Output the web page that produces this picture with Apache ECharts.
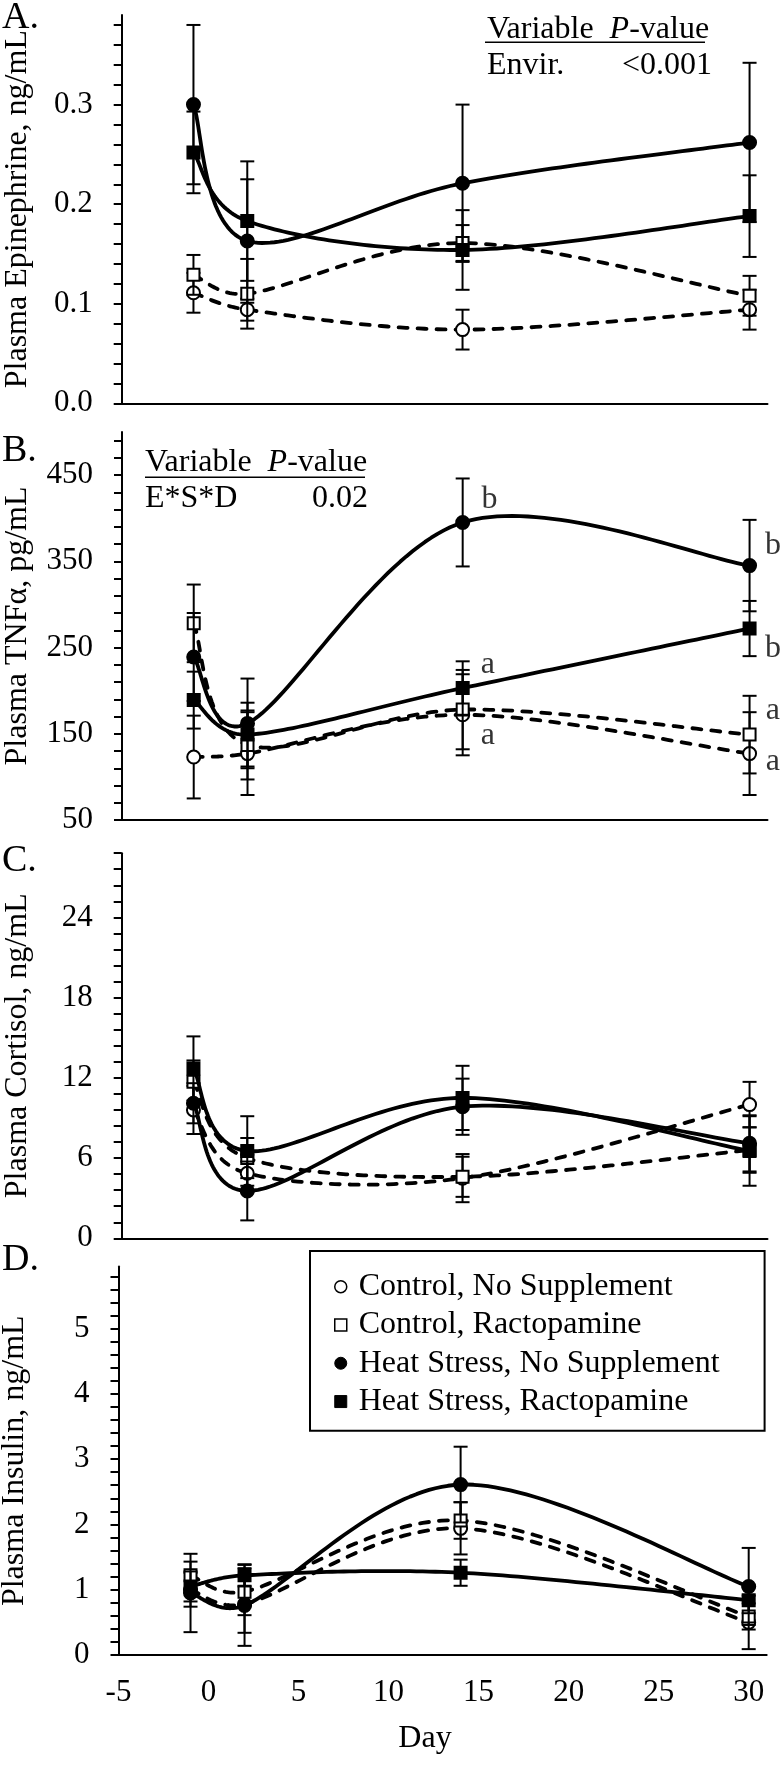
<!DOCTYPE html>
<html><head><meta charset="utf-8">
<script src="https://cdn.jsdelivr.net/npm/echarts@6/dist/echarts.min.js"></script>
<style>html,body{margin:0;padding:0;background:#fff}#c{width:780px;height:1765px}</style>
</head><body><div id="c"></div>
<script>
// ---------- data ----------
const days = [-1, 2, 14, 30];
const groupNames = ['Control, No Supplement', 'Control, Ractopamine', 'Heat Stress, No Supplement', 'Heat Stress, Ractopamine'];

// A. Plasma epinephrine, ng/mL
const epiConNS = [0.111, 0.094, 0.074, 0.094];
const epiConNSse = [0.020, 0.011, 0.020, 0.020];
const epiConR = [0.129, 0.110, 0.161, 0.108];
const epiConRse = [0.020, 0.035, 0.018, 0.020];
const epiHsNS = [0.300, 0.163, 0.221, 0.262];
const epiHsNSse = [0.080, 0.062, 0.079, 0.080];
const epiHsR = [0.252, 0.183, 0.154, 0.188];
const epiHsRse = [0.041, 0.060, 0.040, 0.041];

// B. Plasma TNFa, pg/mL
const tnfConNS = [123, 127, 172, 127];
const tnfConNSse = [48, 48, 47, 48];
const tnfConR = [278, 137, 178, 149];
const tnfConRse = [45, 40, 46, 45];
const tnfHsNS = [239, 162, 395, 345];
const tnfHsNSse = [51, 52, 51, 53];
const tnfHsR = [189, 149, 203, 272];
const tnfHsRse = [33, 37, 31, 32];
const tnfLetters = ['b', 'a', 'a', 'b', 'b', 'a', 'a'];
const tnfLetterDays = [15.5, 15.4, 15.4, 31.3, 31.3, 31.3, 31.3];
const tnfLetterVals = [421, 230, 148, 368, 249, 177, 118];

// C. Plasma cortisol, ng/mL
const corConNS = [9.6, 4.86, 4.5, 10.0];
const corConNSse = [1.8, 1.4, 1.8, 1.7];
const corConR = [11.7, 6.0, 4.6, 6.6];
const corConRse = [1.6, 1.5, 1.5, 1.7];
const corHsNS = [10.1, 3.54, 9.84, 7.1];
const corHsNSse = [1.5, 2.2, 2.1, 2.1];
const corHsR = [12.7, 6.53, 10.5, 6.53];
const corHsRse = [2.4, 2.6, 2.4, 2.6];

// D. Plasma insulin, ng/mL
const insConNS = [1.00, 0.78, 1.94, 0.50];
const insConNSse = [0.26, 0.44, 0.40, 0.41];
const insConR = [1.22, 0.97, 2.06, 0.59];
const insConRse = [0.21, 0.36, 0.28, 0.20];
const insHsNS = [0.95, 0.76, 2.61, 1.05];
const insHsNSse = [0.60, 0.62, 0.58, 0.59];
const insHsR = [1.05, 1.22, 1.26, 0.84];
const insHsRse = [0.23, 0.17, 0.20, 0.20];

// axes / ticks
const xTickLabels = [-5, 0, 5, 10, 15, 20, 25, 30];
const epiTickLabels = [0, 0.1, 0.2, 0.3];
const tnfTickLabels = [50, 150, 250, 350, 450];
const corTickLabels = [0, 6, 12, 18, 24];
const insTickLabels = [0, 1, 2, 3, 4, 5];

// ---------- layout ----------
const F = "'Liberation Serif', 'Times New Roman', serif";
function minorTicks(min, max, step) {
  const out = [];
  for (let v = min; v <= max + 1e-9; v += step) out.push(+v.toFixed(6));
  return out;
}
const panels = [
  { name: 'Plasma Epinephrine, ng/mL', grid: { left: 121.7, top: 15, width: 645.8, height: 388.3 },
    min: 0, max: 0.39, ticks: minorTicks(0, 0.38, 0.02), labels: epiTickLabels, fmt: v => v.toFixed(1),
    m: [epiConNS, epiConR, epiHsNS, epiHsR], s: [epiConNSse, epiConRse, epiHsNSse, epiHsRse] },
  { name: 'Plasma TNFα, pg/mL', grid: { left: 122, top: 431.9, width: 645.5, height: 388.1 },
    min: 50, max: 500, ticks: minorTicks(50, 490, 20), labels: tnfTickLabels, fmt: v => String(v),
    m: [tnfConNS, tnfConR, tnfHsNS, tnfHsR], s: [tnfConNSse, tnfConRse, tnfHsNSse, tnfHsRse] },
  { name: 'Plasma Cortisol, ng/mL', grid: { left: 121.7, top: 853.2, width: 645.8, height: 385.1 },
    min: 0, max: 28.8, ticks: minorTicks(0, 28.8, 1.2), labels: corTickLabels, fmt: v => String(v),
    m: [corConNS, corConR, corHsNS, corHsR], s: [corConNSse, corConRse, corHsNSse, corHsRse] },
  { name: 'Plasma Insulin, ng/mL', grid: { left: 118.5, top: 1266.5, width: 648.2, height: 388.5 },
    min: 0, max: 5.95, ticks: minorTicks(0, 5.8, 0.2), labels: insTickLabels, fmt: v => String(v),
    m: [insConNS, insConR, insHsNS, insHsR], s: [insConNSse, insConRse, insHsNSse, insHsRse] }
];

function errRender(params, api) {
  const x = api.value(0), lo = api.value(1), hi = api.value(2);
  const pLo = api.coord([x, lo]), pHi = api.coord([x, hi]);
  const w = 7;
  const st = { stroke: '#000', lineWidth: 2 };
  return { type: 'group', children: [
    { type: 'line', shape: { x1: pLo[0], y1: pLo[1], x2: pHi[0], y2: pHi[1] }, style: st },
    { type: 'line', shape: { x1: pLo[0] - w, y1: pLo[1], x2: pLo[0] + w, y2: pLo[1] }, style: st },
    { type: 'line', shape: { x1: pHi[0] - w, y1: pHi[1], x2: pHi[0] + w, y2: pHi[1] }, style: st }
  ] };
}

// spreadsheet-style smoothed curve (cubic Bezier, Catmull-Rom control points), sampled in pixel space
function curveRender(dashed) {
  return function (params, api) {
    if (params.dataIndex !== 0) return null;
    const pts = [];
    for (let k = 0; k < days.length; k++) pts.push(api.coord([api.value(0, k), api.value(1, k)]));
    const out = [pts[0]];
    const clampArm = (a, seg) => {
      const la = Math.hypot(a[0], a[1]), ls = Math.hypot(seg[0], seg[1]) / 2;
      return la > ls && la > 0 ? [a[0] * ls / la, a[1] * ls / la] : a;
    };
    for (let k = 0; k < pts.length - 1; k++) {
      const p0 = pts[k - 1] || pts[k], p1 = pts[k], p2 = pts[k + 1], p3 = pts[k + 2] || pts[k + 1];
      const seg = [p2[0] - p1[0], p2[1] - p1[1]];
      const a1 = clampArm([(p2[0] - p0[0]) / 6, (p2[1] - p0[1]) / 6], seg);
      const a2 = clampArm([(p3[0] - p1[0]) / 6, (p3[1] - p1[1]) / 6], seg);
      const c1 = [p1[0] + a1[0], p1[1] + a1[1]];
      const c2 = [p2[0] - a2[0], p2[1] - a2[1]];
      const N = 40;
      for (let j = 1; j <= N; j++) {
        const t = j / N, u = 1 - t;
        out.push([
          u * u * u * p1[0] + 3 * u * u * t * c1[0] + 3 * u * t * t * c2[0] + t * t * t * p2[0],
          u * u * u * p1[1] + 3 * u * u * t * c1[1] + 3 * u * t * t * c2[1] + t * t * t * p2[1]
        ]);
      }
    }
    return { type: 'polyline', shape: { points: out },
      style: { fill: null, stroke: '#000', lineWidth: dashed ? 3.8 : 3.8, lineCap: dashed ? 'round' : 'butt', lineJoin: 'round', lineDash: dashed ? [9, 10] : null } };
  };
}

const grids = [], xAxes = [], yAxes = [], series = [];
panels.forEach((p, i) => {
  grids.push(Object.assign({ outerBoundsMode: 'none', containLabel: false }, p.grid));
  const last = i === panels.length - 1;
  xAxes.push({
    type: 'value', gridIndex: i, min: -5, max: 31, interval: 5,
    axisLine: { show: true, onZero: false, lineStyle: { color: '#000', width: 2 } },
    axisTick: { show: false }, splitLine: { show: false },
    axisLabel: { show: last, customValues: xTickLabels, margin: 22, fontFamily: F, fontSize: 31, color: '#000' }
  });
  yAxes.push({
    type: 'value', gridIndex: i, min: p.min, max: p.max,
    name: p.name, nameLocation: 'middle', nameGap: 88, nameRotate: 90, nameMoveOverlap: false,
    nameTextStyle: { fontFamily: F, fontSize: 32, color: '#000' },
    axisLine: { show: true, onZero: false, lineStyle: { color: '#000', width: 2 } },
    axisTick: { show: true, customValues: p.ticks, length: 8, inside: false, lineStyle: { color: '#000', width: 2 } },
    axisLabel: { customValues: p.labels, formatter: p.fmt, margin: 29, fontFamily: F, fontSize: 31, color: '#000' },
    splitLine: { show: false }
  });
  for (let g = 0; g < 4; g++) {
    const pts = days.map((d, k) => [d, p.m[g][k]]);
    series.push({
      type: 'custom', name: groupNames[g], xAxisIndex: i, yAxisIndex: i, z: 2 + g * 3,
      renderItem: errRender, silent: true,
      data: days.map((d, k) => [d, p.m[g][k] - p.s[g][k], p.m[g][k] + p.s[g][k]])
    });
    series.push({
      type: 'custom', name: groupNames[g], xAxisIndex: i, yAxisIndex: i, z: 3 + g * 3,
      renderItem: curveRender(g < 2), silent: true, data: pts
    });
    series.push({
      type: 'scatter', name: groupNames[g], xAxisIndex: i, yAxisIndex: i, z: 4 + g * 3,
      data: pts, symbol: g % 2 === 0 ? 'circle' : 'rect', symbolSize: g % 2 === 0 ? 13 : 12,
      itemStyle: { color: g < 2 ? '#fff' : '#000', borderColor: '#000', borderWidth: 2, opacity: 1 },
      emphasis: { disabled: true }, silent: true
    });
  }
});

// significance letters in panel B
series.push({
  type: 'scatter', xAxisIndex: 1, yAxisIndex: 1, clip: false, silent: true, z: 30,
  symbolSize: 1, itemStyle: { color: 'rgba(0,0,0,0)' },
  label: { show: true, position: 'inside', formatter: q => q.name, fontFamily: F, fontSize: 32, color: '#000' },
  data: tnfLetters.map((t, k) => ({ name: t, value: [tnfLetterDays[k], tnfLetterVals[k]] }))
});

const txt = (x, y, text, size, extra) => ({ type: 'text', x, y, silent: true,
  style: Object.assign({ text, font: size + 'px ' + F, fill: '#000', textVerticalAlign: 'middle' }, extra || {}) });
const richHead = { text: '{n|Variable  }{i|P}{n|-value}', rich: { n: { fontFamily: F, fontSize: 32 }, i: { fontFamily: F, fontSize: 32, fontStyle: 'italic' } } };

const graphics = [
  txt(2, 18.5, 'A.', 38), txt(2, 451.5, 'B.', 38), txt(2, 861.5, 'C.', 38), txt(2, 1260.5, 'D.', 38),
  txt(487, 30, '', 32, richHead),
  { type: 'line', shape: { x1: 485, y1: 42.3, x2: 705, y2: 42.3 }, style: { stroke: '#000', lineWidth: 1.5 } },
  txt(487, 65.5, 'Envir.', 32), txt(622, 65.5, '<0.001', 32),
  txt(145, 462.5, '', 32, richHead),
  { type: 'line', shape: { x1: 145, y1: 477.3, x2: 365, y2: 477.3 }, style: { stroke: '#000', lineWidth: 1.5 } },
  txt(145, 499, 'E*S*D', 32), txt(312, 499, '0.02', 32),
  txt(425, 1739, 'Day', 32, { textAlign: 'center' })
];

const chart = echarts.init(document.getElementById('c'), null, { renderer: 'canvas' });
chart.setOption({
  animation: false,
  backgroundColor: '#fff',
  grid: grids, xAxis: xAxes, yAxis: yAxes, series,
  legend: {
    orient: 'vertical', left: 310, top: 1251, selectedMode: false,
    padding: [16.5, 45, 10, 24], itemGap: 0, itemWidth: 12, itemHeight: 12,
    borderColor: '#000', borderWidth: 2, backgroundColor: '#fff',
    textStyle: { fontFamily: F, fontSize: 32, color: '#000', lineHeight: 38.3, padding: [0, 0, 0, 7] },
    data: [
      { name: groupNames[0], icon: 'circle', itemStyle: { color: '#fff', borderColor: '#000', borderWidth: 1.5 } },
      { name: groupNames[1], icon: 'rect', itemStyle: { color: '#fff', borderColor: '#000', borderWidth: 1.5 } },
      { name: groupNames[2], icon: 'circle', itemStyle: { color: '#000', borderColor: '#000', borderWidth: 1 } },
      { name: groupNames[3], icon: 'rect', itemStyle: { color: '#000', borderColor: '#000', borderWidth: 1 } }
    ]
  },
  graphic: graphics
});
</script></body></html>
